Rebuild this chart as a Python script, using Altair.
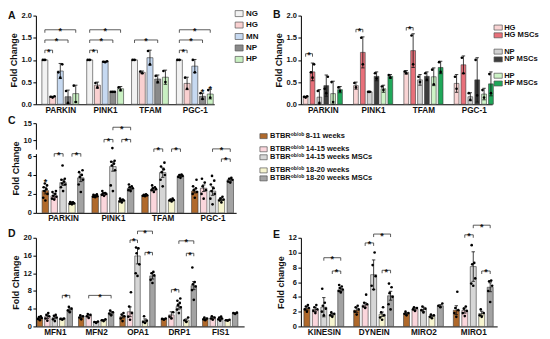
import altair as alt
import pandas as pd

FONT = "Liberation Sans"

# ---------------- Panel A ----------------
A_cats = ["PARKIN", "PINK1", "TFAM", "PGC-1"]
A_series = ["NG", "HG", "MN", "NP", "HP"]
A_colors = ["#f2f2f2", "#f9d0d0", "#c6d9f1", "#8a8a8a", "#c9f0c2"]
A_means = [
    [1.00, 0.17, 0.75, 0.17, 0.24],
    [1.00, 0.43, 0.96, 0.28, 0.35],
    [1.00, 0.72, 1.05, 0.57, 0.61],
    [1.00, 0.47, 0.86, 0.18, 0.23],
]
A_errs = [
    [0.00, 0.01, 0.17, 0.15, 0.19],
    [0.00, 0.07, 0.01, 0.01, 0.05],
    [0.00, 0.03, 0.17, 0.09, 0.16],
    [0.00, 0.14, 0.15, 0.07, 0.11],
]
A_dots = [
    [[1.0, 1.0], [0.15, 0.17, 0.18], [0.6, 0.72, 0.9], [0.03, 0.3], [0.05, 0.42]],
    [[1.0, 1.0], [0.38, 0.48], [0.95, 0.96, 0.97], [0.28, 0.28, 0.28], [0.32, 0.38]],
    [[1.0, 1.0], [0.70, 0.74], [0.9, 1.2], [0.5, 0.64], [0.5, 0.75]],
    [[1.0, 1.0], [0.35, 0.6], [0.72, 1.0], [0.12, 0.25], [0.15, 0.32]],
]
A_brackets = [(0, 0, 1, 1.22), (0, 0, 3, 1.45), (0, 0, 4, 1.68),
              (1, 0, 1, 1.22), (1, 0, 3, 1.45), (1, 0, 4, 1.68),
              (2, 0, 3, 1.45),
              (3, 0, 1, 1.22), (3, 0, 3, 1.45), (3, 0, 4, 1.68)]
A_stars = [(3, 3, 0.31), (3, 4, 0.385)]

# ---------------- Panel B ----------------
B_cats = ["PARKIN", "PINK1", "TFAM", "PGC-1"]
B_series = ["HG", "HG MSCs", "NP", "NP MSCs", "HP", "HP MSCs"]
B_colors = ["#f9d4d4", "#e8707a", "#d2d2d2", "#3d3d3d", "#cdf3c6", "#1fa85a"]
B_means = [
    [0.17, 0.73, 0.16, 0.42, 0.24, 0.33],
    [0.42, 1.17, 0.28, 0.63, 0.35, 0.63],
    [0.72, 1.21, 0.55, 0.63, 0.62, 0.83],
    [0.47, 0.89, 0.17, 0.55, 0.23, 0.46],
]
B_errs = [
    [0.01, 0.20, 0.17, 0.24, 0.28, 0.07],
    [0.08, 0.35, 0.01, 0.10, 0.08, 0.04],
    [0.04, 0.38, 0.12, 0.10, 0.20, 0.14],
    [0.20, 0.20, 0.09, 0.50, 0.13, 0.27],
]
B_dots = [
    [[0.15, 0.17, 0.18], [0.6, 0.72, 0.9], [0.03, 0.3], [0.25, 0.35, 0.62], [0.05, 0.5], [0.3, 0.38]],
    [[0.38, 0.48], [0.9, 1.5], [0.28, 0.28], [0.58, 0.7], [0.32, 0.4], [0.6, 0.66]],
    [[0.70, 0.74], [0.9, 1.55], [0.5, 0.62], [0.55, 0.7], [0.45, 0.78], [0.73, 0.95]],
    [[0.35, 0.62], [0.7, 1.05], [0.1, 0.25], [0.2, 1.0], [0.15, 0.32], [0.25, 0.68]],
]
B_brackets = [(0, 0, 1, 1.14), (1, 0, 1, 1.69), (2, 0, 1, 1.73)]

# ---------------- Panels C, D, E (BTBR ob/ob groups) ----------------
W_series = ["8-11 weeks", "14-15 weeks", "14-15 weeks MSCs", "18-20 weeks", "18-20 weeks MSCs"]
W_colors = ["#b0692b", "#fbd6dc", "#d6d6d6", "#f7f5cf", "#a3a3a3"]

C_cats = ["PARKIN", "PINK1", "TFAM", "PGC-1"]
C_means = [
    [2.35, 1.80, 3.20, 1.05, 3.70],
    [1.80, 2.00, 4.90, 1.30, 2.60],
    [1.85, 2.50, 4.25, 1.35, 3.90],
    [2.30, 2.60, 2.30, 1.45, 3.50],
]
C_errs = [
    [0.35, 0.25, 0.30, 0.08, 0.40],
    [0.08, 0.15, 0.50, 0.08, 0.15],
    [0.06, 0.15, 0.50, 0.08, 0.10],
    [0.20, 0.35, 0.45, 0.15, 0.15],
]
C_dots = [
    [[1.3, 1.6, 2.0, 2.3, 2.5, 2.7, 2.9, 3.1], [1.4, 1.5, 1.7, 1.8, 2.0, 2.2, 2.3],
     [2.3, 2.7, 3.0, 3.1, 3.3, 3.5, 3.6, 5.0], [0.9, 0.95, 1.0, 1.05, 1.1, 1.15],
     [2.2, 3.0, 3.5, 3.8, 4.0, 4.3, 4.5]],
    [[1.65, 1.7, 1.75, 1.8, 1.85, 1.9, 1.95], [1.8, 1.9, 2.0, 2.05, 2.1, 2.3],
     [2.3, 2.9, 4.5, 5.0, 5.2, 5.4, 5.5, 8.0], [1.1, 1.2, 1.3, 1.35, 1.4, 1.5],
     [2.3, 2.4, 2.6, 2.7, 2.8, 3.0]],
    [[1.75, 1.8, 1.85, 1.9, 1.95], [2.2, 2.4, 2.5, 2.6, 2.7, 2.9],
     [2.8, 3.5, 4.0, 4.3, 4.6, 4.9, 5.3], [1.2, 1.3, 1.35, 1.4, 1.5],
     [3.7, 3.8, 3.9, 4.0, 4.05]],
    [[1.6, 2.0, 2.2, 2.4, 2.6, 2.8, 3.5], [1.5, 2.0, 2.4, 2.8, 3.2, 3.6],
     [0.9, 1.5, 2.0, 2.3, 2.6, 3.0, 3.4, 3.9], [1.1, 1.3, 1.4, 1.5, 1.7],
     [3.2, 3.3, 3.5, 3.6, 3.7]],
]
C_brackets = [(0, 1, 2, 6.6), (0, 3, 4, 6.6), (1, 1, 2, 10.2), (1, 3, 4, 10.2), (1, 2, 4, 13.8),
              (2, 1, 2, 7.8), (2, 3, 4, 7.8), (3, 2, 4, 7.8), (3, 3, 4, 5.7)]
C_stars = [(0, 0, 3.45)]

D_cats = ["MFN1", "MFN2", "OPA1", "DRP1", "FIS1"]
D_means = [
    [1.9, 2.2, 2.0, 1.7, 3.8],
    [2.1, 2.4, 1.0, 1.4, 3.0],
    [2.2, 3.3, 15.9, 1.3, 11.4],
    [1.7, 2.6, 4.5, 1.4, 9.2],
    [1.7, 1.9, 1.7, 1.4, 3.0],
]
D_errs = [
    [0.2, 0.4, 0.3, 0.15, 0.35],
    [0.2, 0.3, 0.1, 0.15, 0.35],
    [0.3, 1.1, 1.8, 0.4, 0.7],
    [0.1, 0.7, 0.6, 0.3, 0.9],
    [0.15, 0.25, 0.2, 0.1, 0.1],
]
D_dots = [
    [[1.4, 1.7, 1.9, 2.1, 2.3], [1.3, 1.8, 2.3, 2.6, 3.0], [1.2, 1.6, 2.0, 2.4, 2.6],
     [1.5, 1.7, 1.8], [3.2, 3.6, 4.0, 4.4]],
    [[1.6, 2.0, 2.3, 2.5], [1.9, 2.3, 2.6, 2.8], [0.8, 1.0, 1.1], [1.2, 1.4, 1.6],
     [2.5, 2.9, 3.2, 3.6]],
    [[1.2, 1.8, 2.3, 2.7, 3.0], [1.5, 2.2, 3.0, 4.5, 7.7], [11.4, 12.0, 14.0, 16.5, 17.6, 17.8],
     [0.8, 1.0, 1.3, 2.3], [9.8, 10.5, 11.5, 12.0, 12.3]],
    [[1.5, 1.7, 1.8], [1.8, 2.2, 3.2], [3.0, 3.8, 4.3, 4.8, 5.3, 5.8, 6.3], [1.0, 1.4, 2.0],
     [6.0, 8.2, 9.0, 9.5, 10.0, 13.3]],
    [[1.4, 1.6, 1.8, 2.0], [1.5, 1.8, 2.0, 2.3], [1.3, 1.6, 1.8, 2.0, 2.2], [1.3, 1.4, 1.5],
     [2.8, 3.0, 3.1]],
]
D_brackets = [(0, 3, 4, 7.0), (1, 1, 4, 7.0), (2, 1, 2, 19.5), (2, 2, 4, 21.5), (2, 3, 4, 16.7),
              (3, 1, 2, 8.3), (3, 2, 4, 19.3), (3, 3, 4, 16.5)]

E_cats = ["KINESIN", "DYNEIN", "MIRO2", "MIRO1"]
E_means = [
    [2.45, 2.30, 2.60, 1.60, 4.95],
    [2.20, 2.90, 7.00, 1.65, 4.15],
    [1.75, 2.35, 2.30, 1.40, 2.80],
    [2.20, 2.15, 8.10, 1.75, 5.30],
]
E_errs = [
    [0.25, 0.30, 1.30, 0.15, 0.20],
    [0.30, 0.30, 2.00, 0.30, 0.60],
    [0.10, 0.15, 0.30, 0.10, 0.15],
    [0.60, 0.35, 2.00, 0.30, 0.60],
]
E_dots = [
    [[2.0, 2.3, 2.5, 2.7, 2.9], [1.8, 2.1, 2.3, 2.6, 2.9], [1.5, 2.0, 2.4, 2.8, 3.2, 5.1],
     [1.3, 1.5, 1.7, 1.9], [4.6, 4.8, 5.0, 5.2, 5.4, 5.6]],
    [[1.6, 2.0, 2.3, 2.6, 2.8], [2.5, 2.7, 3.0, 3.2, 4.3], [5.0, 5.5, 6.8, 8.3, 10.0],
     [0.9, 1.2, 1.5, 1.9, 2.6], [2.3, 3.0, 4.0, 4.5, 5.3, 5.8]],
    [[1.5, 1.7, 1.8, 2.0], [2.1, 2.3, 2.5, 2.6], [1.9, 2.2, 2.4, 2.7], [1.1, 1.3, 1.5, 1.6],
     [2.6, 2.8, 3.1]],
    [[1.3, 1.8, 2.2, 2.5, 4.7], [1.4, 1.8, 2.1, 2.4, 2.7], [5.5, 5.8, 6.5, 8.4, 8.6, 11.0],
     [1.3, 1.5, 1.8, 2.3], [3.3, 4.8, 5.5, 6.1, 6.2]],
]
E_brackets = [(0, 2, 4, 9.3), (0, 3, 4, 7.5), (1, 1, 2, 11.3), (1, 2, 4, 12.5), (1, 3, 4, 7.6),
              (3, 1, 2, 12.4), (3, 2, 4, 13.7), (3, 3, 4, 7.5)]

JIT = [0.0, -1.0, 1.0, -0.5, 0.5, -0.8, 0.8, -0.25, 0.25]


def panel(cats, series, colors, means, errs, dots, brackets, stars,
          step_px, sp_px, bw_px, first_px, width, height,
          yscale, yticks, yfmt, ytitle, letter, letter_y, brk=None):
    n = len(series)
    sp = sp_px / step_px
    bw = bw_px / step_px
    cap = 1.7 / step_px
    dom = [-first_px / step_px, (width - first_px) / step_px]

    def xc(g, s):
        return g + (s - (n - 1) / 2) * sp

    bars, pts = [], []
    for g in range(len(cats)):
        for s in range(n):
            c = xc(g, s)
            m = means[g][s]
            e = errs[g][s]
            bars.append(dict(col=colors[s], xl=c - bw / 2, xr=c + bw / 2, xc=c,
                             cl=c - cap, cr=c + cap, m=m, lo=max(m - e, 0), hi=m + e, zero=0))
            for k, v in enumerate(dots[g][s]):
                pts.append(dict(x=c + JIT[k % len(JIT)] * bw * 0.33, v=v))
    bdf = pd.DataFrame(bars)
    pdf = pd.DataFrame(pts)
    brdf = pd.DataFrame([dict(x1=xc(g, a), x2=xc(g, b), xm=(xc(g, a) + xc(g, b)) / 2, y=y)
                         for g, a, b, y in brackets])

    xs = alt.Scale(domain=dom, nice=False, zero=False)
    labs = "[" + ",".join("'%s'" % c for c in cats) + "]"
    xaxis = alt.Axis(values=list(range(len(cats))), labelExpr=labs + "[round(datum.value)]",
                     ticks=False, grid=False, title=None, labelFontSize=8.2, labelFontWeight="bold",
                     labelPadding=2, domainColor="#000", labelColor="#111", labelOverlap=False,
                     labelFlush=False)
    yaxis = alt.Axis(values=yticks, format=yfmt, title=ytitle, grid=False, tickSize=3,
                     tickColor="#000", domainColor="#000", labelFontSize=7.5,
                     labelFontWeight="bold", labelColor="#111", titleFontSize=9,
                     titleFontWeight="bold", titleColor="#111", labelPadding=1.5, titlePadding=3)

    def X(f):
        return alt.X(f + ":Q", scale=xs, axis=xaxis)

    def Y(f):
        return alt.Y(f + ":Q", scale=yscale, axis=yaxis)

    layers = [
        alt.Chart(bdf).mark_rect(stroke="#3a3a3a", strokeWidth=0.6).encode(
            x=X("xl"), x2="xr", y=Y("m"), y2="zero", fill=alt.Fill("col:N", scale=None)),
        alt.Chart(bdf).mark_rule(color="#111", strokeWidth=0.8).encode(x=X("xc"), y=Y("lo"), y2="hi"),
        alt.Chart(bdf).mark_rule(color="#111", strokeWidth=0.8).encode(x=X("cl"), x2="cr", y=Y("hi")),
        alt.Chart(bdf).mark_rule(color="#111", strokeWidth=0.8).encode(x=X("cl"), x2="cr", y=Y("lo")),
        alt.Chart(pdf).mark_circle(size=7, color="#000", opacity=1).encode(x=X("x"), y=Y("v")),
        alt.Chart(brdf).mark_rule(color="#333", strokeWidth=0.8).encode(x=X("x1"), x2="x2", y=Y("y")),
        alt.Chart(brdf).mark_rule(color="#333", strokeWidth=0.8, y2Offset=3).encode(x=X("x1"), y=Y("y"), y2="y"),
        alt.Chart(brdf).mark_rule(color="#333", strokeWidth=0.8, y2Offset=3).encode(x=X("x2"), y=Y("y"), y2="y"),
        alt.Chart(brdf).mark_text(text="*", fontSize=9, fontWeight="bold", dy=1.5, color="#111").encode(
            x=X("xm"), y=Y("y")),
    ]
    if stars:
        sdf = pd.DataFrame([dict(x=xc(g, s), y=y) for g, s, y in stars])
        layers.append(alt.Chart(sdf).mark_text(text="*", fontSize=9, fontWeight="bold", dy=1.5,
                                               color="#111").encode(x=X("x"), y=Y("y")))
    if brk:
        kdf = pd.DataFrame([dict(x=dom[0], y1=brk[0], y2=brk[1])])
        layers.append(alt.Chart(kdf).mark_rule(color="white", strokeWidth=3).encode(
            x=X("x"), y=Y("y1"), y2="y2"))
    layers.append(alt.Chart(pd.DataFrame({"t": [letter]})).mark_text(
        fontSize=10.5, fontWeight="bold", align="left", baseline="middle", color="#111").encode(
        text="t:N", x=alt.value(-28), y=alt.value(letter_y)))
    return alt.layer(*layers).properties(width=width, height=height)


def legend(labels, colors, groups, gap, y0, pitch, box_cx, label_x, width, height,
           box_w, box_h, fsize, sup_prefix=None):
    slots = [i + gap * groups[i] for i in range(len(labels))]
    df = pd.DataFrame(dict(lab=labels, col=colors, slot=slots))
    smax = max(slots)
    y = alt.Y("slot:Q", scale=alt.Scale(domain=[0, smax], range=[y0, y0 + pitch * smax]), axis=None)
    r = box_h / box_w
    shape = "M-1,-%.3fH1V%.3fH-1Z" % (r, r)
    layers = [alt.Chart(df).mark_point(shape=shape, size=box_w ** 2, filled=True, opacity=1,
                                       stroke="#555", strokeWidth=0.7).encode(
        x=alt.value(box_cx), y=y, fill=alt.Fill("col:N", scale=None))]
    if sup_prefix:
        w1 = 2.777 * fsize
        w2 = 2.722 * 5
        layers.append(alt.Chart(df).mark_text(text=sup_prefix[0], align="left", baseline="middle",
                                              fontSize=fsize, fontWeight="bold", color="#111").encode(
            x=alt.value(label_x), y=y))
        layers.append(alt.Chart(df).mark_text(text=sup_prefix[1], align="left", baseline="middle",
                                              fontSize=5, fontWeight="bold", color="#111", dy=-2.5).encode(
            x=alt.value(label_x + w1), y=y))
        layers.append(alt.Chart(df).mark_text(align="left", baseline="middle", fontSize=fsize,
                                              fontWeight="bold", color="#111").encode(
            x=alt.value(label_x + w1 + w2 + 1.5), y=y, text="lab:N"))
    else:
        layers.append(alt.Chart(df).mark_text(align="left", baseline="middle", fontSize=fsize,
                                              fontWeight="bold", color="#111").encode(
            x=alt.value(label_x), y=y, text="lab:N"))
    return alt.layer(*layers).properties(width=width, height=height)


def blank(w, h):
    return alt.Chart(pd.DataFrame({"t": [""]})).mark_text(opacity=0).encode(
        text="t:N", x=alt.value(0), y=alt.value(0)).properties(width=w, height=h)


lin2 = alt.Scale(domain=[0, 2], nice=False, zero=True)
pA = panel(A_cats, A_series, A_colors, A_means, A_errs, A_dots, A_brackets, A_stars,
           45, 7.75, 6, 24.5, 179, 89, lin2, [0, 0.5, 1.0, 1.5, 2.0], ".1f", "Fold Change", "A", 0)
pB = panel(B_cats, B_series, B_colors, B_means, B_errs, B_dots, B_brackets, None,
           50.5, 6.9, 4.8, 22, 192, 89, lin2, [0, 0.5, 1.0, 1.5, 2.0], ".1f", "Fold Change", "B", -1)
pC = panel(C_cats, W_series, W_colors, C_means, C_errs, C_dots, C_brackets, C_stars,
           50, 8.9, 6.5, 27.3, 201, 90,
           alt.Scale(domain=[0, 6, 10, 15], range=[90, 33, 17, 0], nice=False),
           [0, 2, 4, 6, 10, 15], "d", "Fold Change", "C", brk=(6.5, 7.6), letter_y=-2)
pD = panel(D_cats, W_series, W_colors, D_means, D_errs, D_dots, D_brackets, None,
           41.5, 7.5, 5.5, 19, 209, 89, alt.Scale(domain=[0, 20], nice=False),
           [0, 4, 8, 12, 16, 20], "d", "Fold Change", "D", -4)
pE = panel(E_cats, W_series, W_colors, E_means, E_errs, E_dots, E_brackets, None,
           50, 8.5, 6, 23, 197, 89, alt.Scale(domain=[0, 12], nice=False),
           [0, 2, 4, 6, 8, 10, 12], "d", "Fold change", "E", -3)

# grid columns: [A/C/D] [legend gap 57px] [B/E] [legend B]
legA = legend(A_series, A_colors, [0, 0, 0, 0, 0], 0, -2, 11.5, -5, 2, 57, 89, 8, 6, 8)
legB = legend(B_series, B_colors, [0, 0, 1, 1, 2, 2], 1.1, 12, 7.8, 1, 7, 45, 89, 8.3, 5, 7.6)
legC = legend(W_series, W_colors, [0, 1, 1, 2, 2], 0.65, 13, 8, 19.5, 26, 57, 96, 7.3, 5, 7.5,
              sup_prefix=("BTBR", "ob/ob"))

chart = alt.concat(
    pA, legA, pB, legB,
    pC, legC, blank(10, 96), blank(10, 10),
    pD, blank(57, 89), pE, blank(10, 10),
    columns=4, bounds="flush", spacing={"row": 19, "column": 0},
).resolve_scale(x="independent", y="independent").properties(
    padding=0, background="white").configure(font=FONT).configure_view(stroke=None)

chart.save("out.html", embed_options={"renderer": "svg", "actions": False})
